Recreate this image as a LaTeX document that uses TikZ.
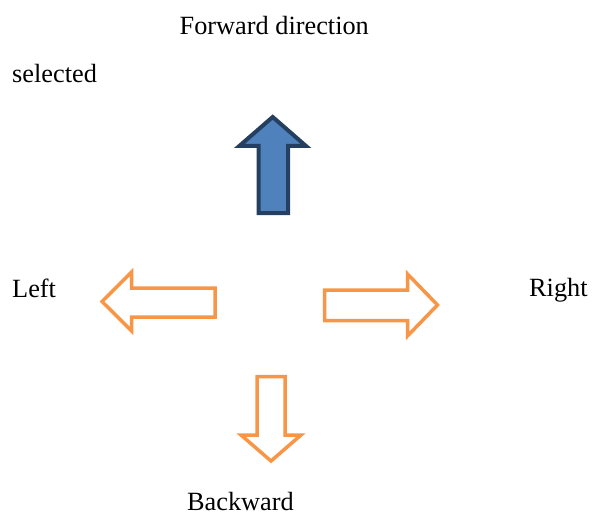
\documentclass[tikz,border=0pt]{standalone}
\usepackage{fontspec}
\setmainfont{Liberation Serif}
\definecolor{arrorange}{HTML}{F79646}
\definecolor{arrblue}{HTML}{4F81BD}
\definecolor{arrnavy}{HTML}{243F60}
\begin{document}
\begin{tikzpicture}[x=1pt,y=-1pt,
  lbl/.style={anchor=base west,inner sep=0pt,font=\fontsize{26.3}{31}\selectfont},
  selarrow/.style={draw=arrnavy,fill=arrblue,line width=4pt,line join=miter},
  optarrow/.style={draw=arrorange,fill=white,line width=3.5pt,line join=miter}]
\useasboundingbox (0,0) rectangle (592,516);
% texts
\node[lbl] (fwd) at (179.5,34.3) {Forward direction};
\node[lbl] (sel) at (12,82.3) {selected};
\node[lbl] (lft) at (12,297.3) {Left};
\node[lbl] (rgt) at (529,296.7) {Right};
\node[lbl] (bwd) at (187,510.7) {Backward};
% forward (selected) arrow
\draw[selarrow] (272.7,117) -- (306,146) -- (288,146) -- (288,213) -- (258.7,213) -- (258.7,146) -- (239.3,146) -- cycle;
% left arrow
\draw[optarrow] (102,301.5) -- (131.7,272) -- (131.7,288) -- (215,288) -- (215,317) -- (131.7,317) -- (131.7,331) -- cycle;
% right arrow
\draw[optarrow] (437.5,305) -- (407.5,274) -- (407.5,290) -- (324.5,290) -- (324.5,320.5) -- (407.5,320.5) -- (407.5,336) -- cycle;
% backward arrow
\draw[optarrow] (271,461) -- (241,435) -- (257,435) -- (257,376.5) -- (285,376.5) -- (285,435) -- (301,435) -- cycle;
\end{tikzpicture}
\end{document}
